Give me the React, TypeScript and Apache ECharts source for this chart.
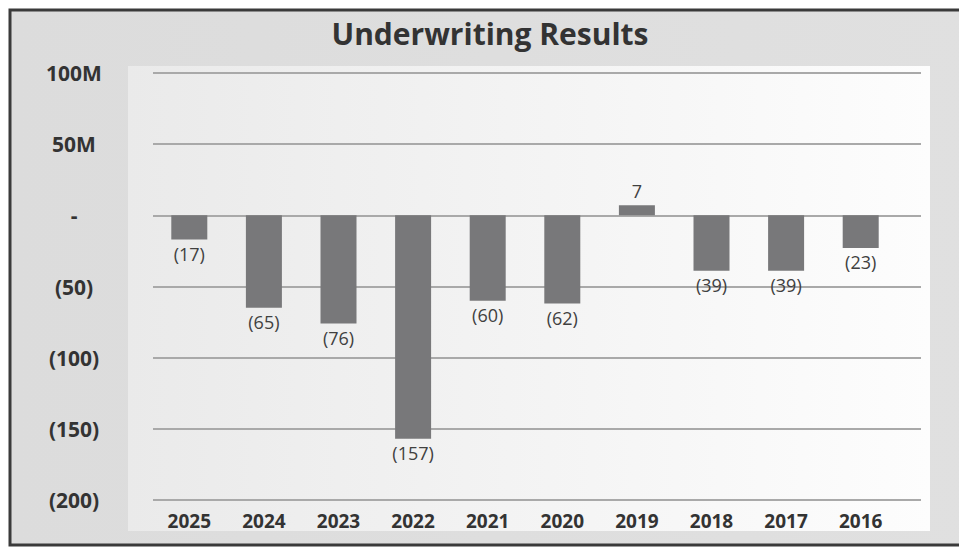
import React, { useEffect, useRef } from "react";
import * as echarts from "echarts";

const years = ["2025", "2024", "2023", "2022", "2021", "2020", "2019", "2018", "2017", "2016"];
const results = [-17, -65, -76, -157, -60, -62, 7, -39, -39, -23];
const yTickValues = [100, 50, 0, -50, -100, -150, -200];
const yTickLabels = ["100M", "50M", "-", "(50)", "(100)", "(150)", "(200)"];
const titleText = "Underwriting Results";

const FONT = "'Open Sans', sans-serif";

export default function App() {
  const ref = useRef<HTMLDivElement>(null);
  useEffect(() => {
    if (!ref.current) return;
    const chart = echarts.init(ref.current, undefined, { renderer: "svg" });
    const fmtY = (v: number) => {
      const i = yTickValues.indexOf(v);
      return i >= 0 ? yTickLabels[i] : "";
    };
    chart.setOption({
      animation: false,
      backgroundColor: "#ffffff",
      textStyle: { fontFamily: FONT },
      graphic: [
        {
          type: "rect",
          z: -10,
          silent: true,
          shape: { x: 10, y: 10, width: 970, height: 535 },
          style: {
            fill: new echarts.graphic.LinearGradient(0, 0, 1, 0, [
              { offset: 0, color: "#dcdcdc" },
              { offset: 1, color: "#e0e0e0" },
            ]),
            stroke: "#3a3a3a",
            lineWidth: 3,
          },
        },
        {
          type: "rect",
          z: -9,
          silent: true,
          shape: { x: 128, y: 66, width: 802, height: 465 },
          style: {
            fill: new echarts.graphic.LinearGradient(0, 0, 1, 0, [
              { offset: 0, color: "#eaeaea" },
              { offset: 1, color: "#fdfdfd" },
            ]),
          },
        },
        {
          type: "text",
          x: 490,
          y: 33,
          style: {
            text: titleText,
            font: `bold 30px ${FONT}`,
            fill: "#333333",
            align: "center",
            verticalAlign: "middle",
          },
        },
      ],
      grid: [
        { left: 152, right: 61, top: 73, bottom: 48 },
        { left: 153, right: 38, top: 73, bottom: 48 },
      ],
      xAxis: [
        {
          type: "category",
          gridIndex: 0,
          data: years,
          axisLine: { show: false },
          axisTick: { show: false },
          axisLabel: {
            margin: 11,
            color: "#333333",
            fontFamily: FONT,
            fontWeight: "bold",
            fontSize: 19,
          },
        },
        {
          type: "category",
          gridIndex: 1,
          data: years,
          show: false,
        },
      ],
      yAxis: [
        {
          type: "value",
          gridIndex: 0,
          min: -200,
          max: 100,
          interval: 50,
          axisLine: { show: false },
          axisTick: { show: false },
          splitLine: { show: false },
          axisLabel: {
            formatter: fmtY,
            margin: 78,
            align: "center",
            color: "#333333",
            fontFamily: FONT,
            fontWeight: "bold",
            fontSize: 21,
          },
        },
        {
          type: "value",
          gridIndex: 1,
          min: -200,
          max: 100,
          interval: 50,
          axisLine: { show: false },
          axisTick: { show: false },
          axisLabel: { show: false },
          splitLine: { show: true, lineStyle: { color: "#a9a9a9", width: 2 } },
        },
      ],
      series: [
        {
          type: "bar",
          xAxisIndex: 0,
          yAxisIndex: 0,
          barWidth: 36,
          itemStyle: { color: "#78787a" },
          data: results.map((v) => ({
            value: v,
            label: { position: v < 0 ? "bottom" : "top" },
          })),
          label: {
            show: true,
            distance: 5,
            color: "#404040",
            fontFamily: FONT,
            fontSize: 18,
            formatter: (p: any) => (p.value < 0 ? `(${-p.value})` : `${p.value}`),
          },
        },
      ],
    });
    return () => chart.dispose();
  }, []);
  return (
    <div
      ref={ref}
      style={{ position: "fixed", left: 0, top: 0, width: 959, height: 548 }}
    />
  );
}
